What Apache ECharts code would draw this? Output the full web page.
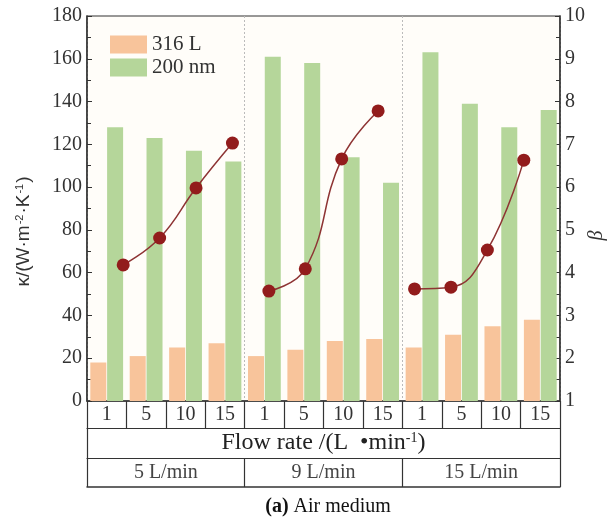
<!DOCTYPE html>
<html>
<head>
<meta charset="utf-8">
<script src="https://cdn.jsdelivr.net/npm/echarts@6/dist/echarts.min.js"></script>
<style>html,body{margin:0;padding:0;background:#fff}#c{width:609px;height:517px}</style>
</head>
<body>
<div id="c"></div>
<script>
// ---- data ----
var flowLabels = ['1','5','10','15','1','5','10','15','1','5','10','15'];
var groupLabels = ['5 L/min','9 L/min','15 L/min'];
var kappa316L = [18, 21, 25, 27, 21, 24, 28, 29, 25, 31, 35, 38];
var kappa200nm = [128, 123, 117, 112, 161, 158, 114, 102, 163, 139, 128, 136];
var betaG1 = [4.18, 4.81, 5.98, 7.03];
var betaG2 = [3.57, 4.09, 6.66, 7.78];
var betaG3 = [3.62, 3.66, 4.53, 6.63];
var leftTicks = {min: 0, max: 180, interval: 20};
var rightTicks = {min: 1, max: 10, interval: 1};

function groupSeries(vals, g) {
  var out = [];
  for (var i = 0; i < flowLabels.length; i++) {
    var k = i - g * 4;
    out.push(k >= 0 && k < 4 ? vals[k] : '-');
  }
  return out;
}

var serif = '"Liberation Serif", "Times New Roman", serif';
var sans = '"Liberation Sans", Arial, sans-serif';
var axisCol = '#333';
var chart = echarts.init(document.getElementById('c'));
var lineSeries = function (name, d) {
  return {
    name: name, type: 'line', xAxisIndex: 4, yAxisIndex: 2, data: d,
    smooth: 0.45, symbol: 'circle', symbolSize: 13,
    itemStyle: {color: '#921c1c'},
    lineStyle: {color: '#8e3434', width: 1.5},
    z: 5
  };
};

chart.setOption({
  animation: false,
  grid: [
    {left: 87, right: 49, top: 16, bottom: 116, outerBoundsMode: 'none', containLabel: false,
     show: true, backgroundColor: '#fffdf9', borderColor: axisCol, borderWidth: 1.2},
    {left: 105, right: 67, top: 16, bottom: 116, outerBoundsMode: 'none', containLabel: false}
  ],
  legend: {
    orient: 'vertical', left: 105, top: 29, itemWidth: 37, itemHeight: 18, itemGap: 2,
    icon: 'rect', data: ['316 L', '200 nm'],
    textStyle: {fontFamily: serif, fontSize: 21, color: '#333'}
  },
  xAxis: [
    {type: 'category', gridIndex: 0, data: flowLabels, position: 'bottom',
     axisLine: {lineStyle: {color: axisCol, width: 1.5}},
     axisTick: {show: true, length: 27, interval: 0, lineStyle: {color: axisCol, width: 1.2}},
     axisLabel: {interval: 0, margin: 4, fontFamily: serif, fontSize: 20, color: '#333'}},
    {type: 'category', gridIndex: 0, data: ['Flow rate /(L  \u2022min{s|-1})'], position: 'bottom', offset: 27,
     axisLine: {lineStyle: {color: axisCol, width: 1.2}},
     axisTick: {show: true, length: 30, lineStyle: {color: axisCol, width: 1.2}},
     axisLabel: {interval: 0, margin: 3, fontFamily: serif, fontSize: 24, color: '#222',
       rich: {s: {fontFamily: serif, fontSize: 14, verticalAlign: 'top', color: '#222', padding: [0, 0, 9, 0]}}}},
    {type: 'category', gridIndex: 0, data: groupLabels, position: 'bottom', offset: 57,
     axisLine: {lineStyle: {color: axisCol, width: 1.2}},
     axisTick: {show: true, length: 29, interval: 0, lineStyle: {color: axisCol, width: 1.2}},
     axisLabel: {interval: 0, margin: 5, fontFamily: serif, fontSize: 20, color: '#444'},
     splitLine: {show: true, lineStyle: {type: [2, 2], color: '#bbb', width: 1}}},
    {type: 'category', gridIndex: 0, data: [''], position: 'bottom', offset: 86,
     axisLine: {lineStyle: {color: axisCol, width: 1.5}},
     axisTick: {show: false}, axisLabel: {show: false}},
    {type: 'category', gridIndex: 1, data: flowLabels, show: false}
  ],
  yAxis: [
    {type: 'value', gridIndex: 0, position: 'left', min: leftTicks.min, max: leftTicks.max, interval: leftTicks.interval,
     name: '{a|\u03BA/(W\u00B7m}{s|-2}{a|\u00B7K}{s|-1}{a|)}', nameLocation: 'middle', nameRotate: 90, nameGap: 54,
     nameMoveOverlap: false,
     nameTextStyle: {fontFamily: sans, fontSize: 19, color: '#333', padding: [0, 46, 0, 0],
       rich: {a: {fontFamily: sans, fontSize: 19, color: '#333'},
              s: {fontFamily: sans, fontSize: 11, color: '#333', verticalAlign: 'top', padding: [0, 1, 8, 1]}}},
     axisLine: {show: true, lineStyle: {color: axisCol, width: 1.5}},
     axisTick: {show: true, inside: true, length: 5, lineStyle: {color: axisCol}},
     minorTick: {show: true, splitNumber: 2, length: 4, lineStyle: {color: axisCol}},
     splitLine: {show: false},
     axisLabel: {fontFamily: serif, fontSize: 20, color: '#333', margin: 5}},
    {type: 'value', gridIndex: 0, position: 'right', min: rightTicks.min, max: rightTicks.max, interval: rightTicks.interval,
     name: '\u03B2', nameLocation: 'middle', nameRotate: 90, nameGap: 27, nameMoveOverlap: false,
     nameTextStyle: {fontFamily: serif, fontStyle: 'italic', fontSize: 20, color: '#333', padding: [0, 54, 0, 0]},
     axisLine: {show: true, lineStyle: {color: axisCol, width: 1.5}},
     axisTick: {show: true, inside: true, length: 5, lineStyle: {color: axisCol}},
     minorTick: {show: true, splitNumber: 2, length: 4, lineStyle: {color: axisCol}},
     splitLine: {show: false},
     axisLabel: {fontFamily: serif, fontSize: 20, color: '#333', margin: 5}},
    {type: 'value', gridIndex: 1, min: rightTicks.min, max: rightTicks.max, show: false}
  ],
  title: {
    text: '{b|(a)} Air medium', left: 323, textAlign: 'center', top: 492,
    textStyle: {fontFamily: serif, fontSize: 20, fontWeight: 'normal', color: '#111',
      rich: {b: {fontFamily: serif, fontSize: 20, fontWeight: 'bold', color: '#111'}}}
  },
  series: [
    {name: '316 L', type: 'bar', xAxisIndex: 0, yAxisIndex: 0, data: kappa316L, barWidth: 16, barGap: '5%',
     itemStyle: {color: '#f8c49b'}},
    {name: '200 nm', type: 'bar', xAxisIndex: 0, yAxisIndex: 0, data: kappa200nm, barWidth: 16, barGap: '5%',
     itemStyle: {color: '#b5d69a'}},
    lineSeries('beta1', groupSeries(betaG1, 0)),
    lineSeries('beta2', groupSeries(betaG2, 1)),
    lineSeries('beta3', groupSeries(betaG3, 2))
  ]
});
</script>
</body>
</html>
